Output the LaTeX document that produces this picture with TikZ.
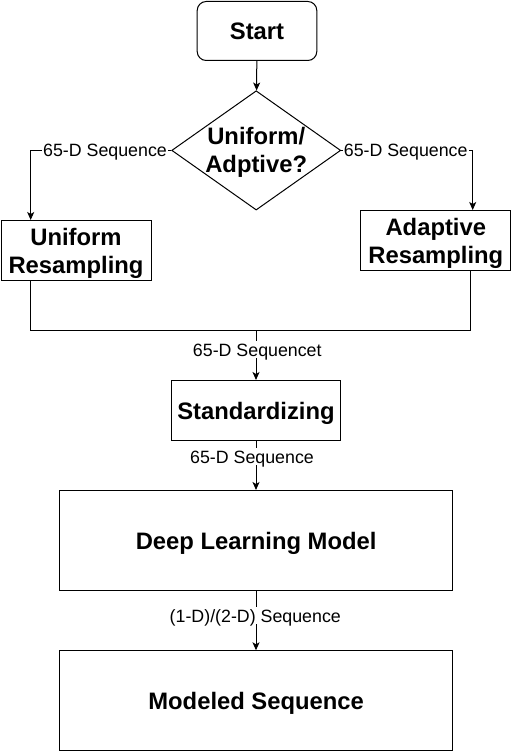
\documentclass[tikz,border=0pt]{standalone}
\usepackage{fontspec}
\setmainfont{Liberation Sans}
\usetikzlibrary{shapes.geometric,arrows.meta}
\begin{document}
\begin{tikzpicture}[x=1pt,y=-1pt,
  box/.style={draw,line width=1pt,inner sep=0pt,anchor=north west,align=center,
    font=\fontsize{23.8}{28}\selectfont\bfseries,text height=17pt,text depth=0pt},
  twoline/.style={text height=45pt,text depth=0pt},
  lbl/.style={fill=white,inner xsep=1pt,inner ysep=2pt,text height=12.8pt,text depth=0pt,
    font=\fontsize{17.8}{20}\selectfont},
  conn/.style={line width=1pt},
  arr/.style={line width=1pt,-{Stealth[length=8pt,width=7pt,inset=2pt]}},
  btxt/.style={inner sep=0pt,align=center,font=\fontsize{23.8}{28}\selectfont\bfseries,
    text height=45pt,text depth=0pt}]
\useasboundingbox (0,0) rectangle (511,751);
% nodes
\node[box,rounded corners=9pt,minimum width=119.6pt,minimum height=59pt] (start) at (196.7,1) {Start};
\node[diamond,draw,line width=1pt,inner sep=0pt,minimum width=169pt,minimum height=119.3pt,aspect=1.417] (dec) at (256.2,150.4) {};
\node[btxt] (dectext) at (256.2,150.4) {Uniform/\\Adptive?};
\node[box,twoline,minimum width=150pt,minimum height=60pt] (unif) at (0.5,220) {Uniform\\Resampling};
\node[box,twoline,minimum width=150pt,minimum height=60.3pt] (adap) at (360.3,210) {Adaptive\\Resampling};
\node[box,minimum width=168.4pt,minimum height=60.3pt] (std) at (171.3,380) {Standardizing};
\node[box,minimum width=392.7pt,minimum height=100.3pt] (dlm) at (59.3,490) {Deep Learning Model};
\node[box,minimum width=392.7pt,minimum height=99.7pt] (mod) at (59.3,650.3) {Modeled Sequence};
% coordinates
\coordinate (lt) at (30.7,150.4);
\coordinate (rt) at (472.7,150.4);
\coordinate (ml) at (30.7,330.3);
\coordinate (mr) at (470.7,330.3);
\coordinate (mc) at (256,330.3);
% connectors
\draw[arr] (start) -- (dec);
\draw[arr] (dec.west) -- (lt) -- (lt |- unif.north);
\draw[arr] (dec.east) -- (rt) -- (rt |- adap.north);
\draw[conn] (unif.south -| ml) -- (ml) -- (mr) -- (adap.south -| mr);
\draw[arr] (mc) -- (mc |- std.north);
\draw[arr] (std.south -| mc) -- (mc |- dlm.north);
\draw[arr] (dlm.south -| mc) -- (mc |- mod.north);
% labels
\node[lbl] (l1) at (105,150) {65-D Sequence};
\node[lbl] (l2) at (405.7,150) {65-D Sequence};
\node[lbl] (l3) at (257.3,349.7) {65-D Sequencet};
\node[lbl] (l4) at (252,456.7) {65-D Sequence};
\node[lbl] (l5) at (255.3,615.8) {(1-D)/(2-D) Sequence};
\end{tikzpicture}
\end{document}
